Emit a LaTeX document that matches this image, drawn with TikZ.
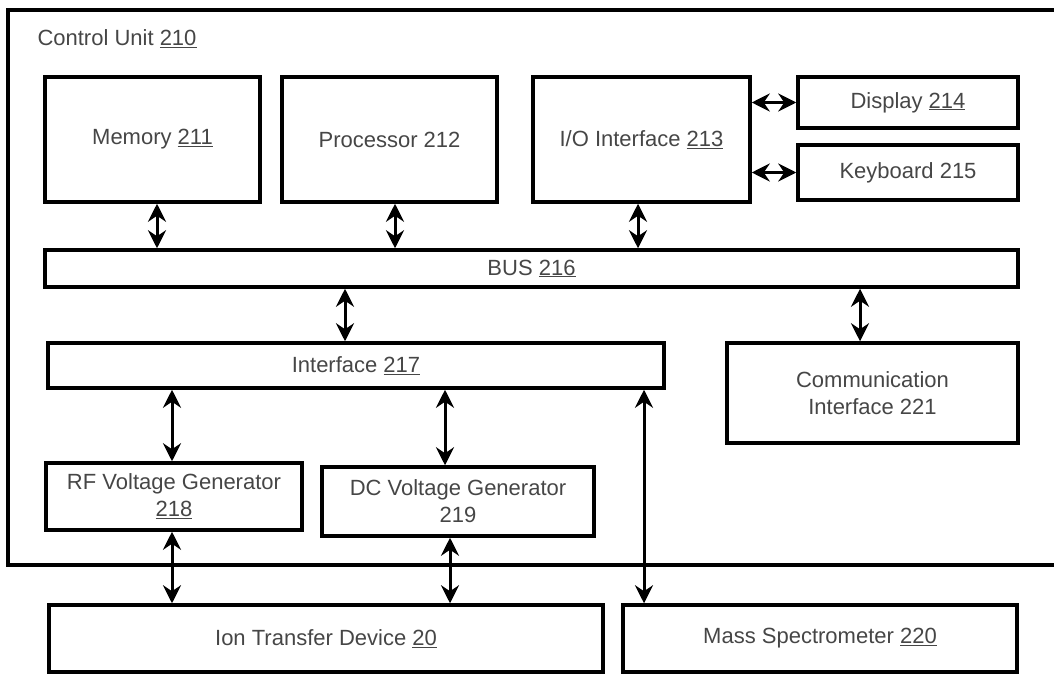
\documentclass[tikz,border=0pt]{standalone}
\usepackage{fontspec}
\setmainfont{Liberation Sans}
\usepackage{tikz}
\usetikzlibrary{arrows.meta}
\definecolor{labelgray}{RGB}{70,70,70}
\tikzset{
  unit/.style={draw=black,line width=3.5pt,align=center,inner sep=2pt,text=labelgray,font=\fontsize{22}{27}\selectfont},
  biedge/.style={{Stealth[length=18pt,width=18pt,inset=6pt]}-{Stealth[length=18pt,width=18pt,inset=6pt]},line width=3pt}
}
\begin{document}
\begin{tikzpicture}[x=1pt,y=-1pt]
  \useasboundingbox (0,0) rectangle (1054,674);
  % control unit frame, open to the right
  \draw[line width=3.5pt] (1070,10) -| (8,565) -- (1070,565);
  \node[anchor=west,text=labelgray,font=\fontsize{22}{27}\selectfont] (cu) at (34,39) {Control Unit \underline{210}};
  % upper row
  \node[unit,minimum width=215pt,minimum height=125pt] (mem) at (152.5,139.5) {Memory \underline{211}};
  \node[unit,minimum width=215pt,minimum height=125pt] (proc) at (389.5,139.5) {Processor 212};
  \node[unit,minimum width=217pt,minimum height=125pt] (io) at (641.5,139.5) {I/O Interface \underline{213}};
  \node[unit,minimum width=220pt,minimum height=51pt] (disp) at (908,102.5) {Display \underline{214}};
  \node[unit,minimum width=220pt,minimum height=55pt] (kbd) at (908,172.5) {Keyboard 215};
  \node[unit,minimum width=973pt,minimum height=37pt] (bus) at (531.5,268.5) {BUS \underline{216}};
  % middle row
  \node[unit,minimum width=616pt,minimum height=45pt] (iface) at (356,365.5) {Interface \underline{217}};
  \node[unit,minimum width=291pt,minimum height=100pt] (comm) at (872.5,393) {Communication\\Interface 221};
  \node[unit,minimum width=256pt,minimum height=67pt] (rf) at (174,496.5) {RF Voltage Generator\\\underline{218}};
  \node[unit,minimum width=272pt,minimum height=69pt] (dc) at (458,501.5) {DC Voltage Generator\\219};
  % outside the control unit
  \node[unit,minimum width=554pt,minimum height=67pt] (itd) at (326,638.5) {Ion Transfer Device \underline{20}};
  \node[unit,minimum width=394pt,minimum height=67pt] (ms) at (820,638.5) {Mass Spectrometer \underline{220}};
  % connections
  \draw[biedge] ([xshift=4.5pt]mem.south) -- ([xshift=4.5pt]mem.south |- bus.north);
  \draw[biedge] ([xshift=5.5pt]proc.south) -- ([xshift=5.5pt]proc.south |- bus.north);
  \draw[biedge] ([xshift=-3.5pt]io.south) -- ([xshift=-3.5pt]io.south |- bus.north);
  \draw[biedge] (disp.west -| io.east) -- (disp.west);
  \draw[biedge] (kbd.west -| io.east) -- (kbd.west);
  \draw[biedge] ([xshift=-11pt]iface.north |- bus.south) -- ([xshift=-11pt]iface.north);
  \draw[biedge] ([xshift=-12.5pt]comm.north |- bus.south) -- ([xshift=-12.5pt]comm.north);
  \draw[biedge] ([xshift=-2pt]rf.north |- iface.south) -- ([xshift=-2pt]rf.north);
  \draw[biedge] ([xshift=-13pt]dc.north |- iface.south) -- ([xshift=-13pt]dc.north);
  \draw[biedge] ([xshift=-2pt]rf.south) -- ([xshift=-2pt]rf.south |- itd.north);
  \draw[biedge] ([xshift=-8pt]dc.south) -- ([xshift=-8pt]dc.south |- itd.north);
  \draw[biedge] ([xshift=-176pt]ms.north |- iface.south) -- ([xshift=-176pt]ms.north);
\end{tikzpicture}
\end{document}
